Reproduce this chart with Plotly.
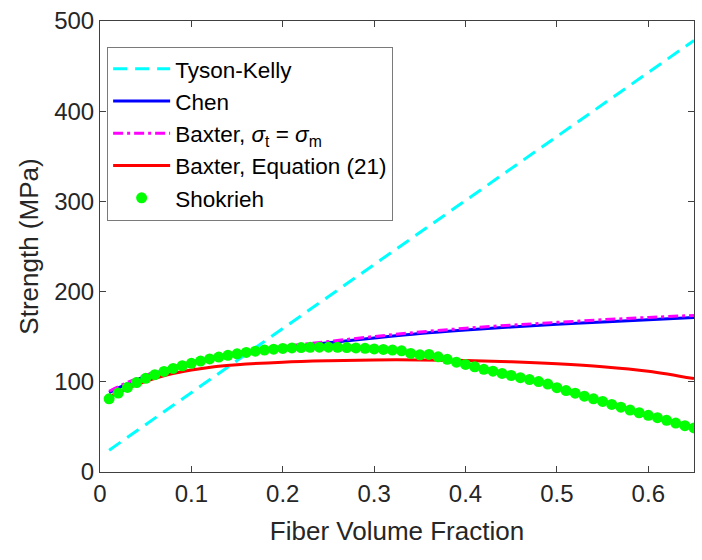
import plotly.graph_objects as go

# ---------------- data ----------------
tk_x = [0.01, 0.65]
tk_y = [24.2, 478.4]

curve_x = [0.01, 0.02, 0.03, 0.05, 0.075, 0.1, 0.125, 0.15, 0.2, 0.25, 0.3, 0.35, 0.4, 0.45, 0.5, 0.55, 0.6, 0.65]
chen_y = [88.0, 93.0, 98.0, 106.0, 114.0, 120.5, 125.8, 130.0, 137.5, 143.2, 148.6, 153.6, 157.5, 160.8, 163.7, 166.4, 168.9, 171.2]
baxter_eq_y = [89.5, 94.5, 99.3, 107.2, 115.2, 121.7, 127.0, 131.3, 138.9, 144.7, 150.2, 155.2, 159.3, 162.8, 165.9, 168.8, 171.3, 173.6]
baxter21_y = [83.0, 88.0, 92.5, 100.5, 108.0, 113.0, 116.8, 119.0, 121.8, 123.3, 124.2, 124.3, 123.6, 122.2, 120.0, 116.8, 111.8, 103.5]

shok_x = [round(0.01 * i, 2) for i in range(1, 66)]
shok_y = [81.1, 87.5, 93.8, 99.2, 103.8, 107.9, 111.5, 114.8, 117.8, 120.5,
          123.0, 125.3, 127.4, 129.3, 131.0, 132.6, 134.0, 135.2, 136.2, 137.0,
          137.6, 138.0, 138.3, 138.4, 138.4, 138.3, 138.0, 137.6, 137.1, 136.5,
          135.9, 135.2, 134.4, 131.4, 129.9, 130.4, 127.7, 124.9, 121.8, 119.3,
          116.7, 113.8, 111.8, 109.3, 107.0, 104.6, 102.5, 100.3, 97.5, 93.5,
          90.3, 87.4, 84.0, 81.1, 78.2, 74.9, 71.9, 68.6, 65.7, 62.8,
          60.2, 57.3, 54.3, 51.4, 48.8]

x_ticks = [0, 0.1, 0.2, 0.3, 0.4, 0.5, 0.6]
x_ticklabels = ["0", "0.1", "0.2", "0.3", "0.4", "0.5", "0.6"]
y_ticks = [0, 100, 200, 300, 400, 500]
y_ticklabels = ["0", "100", "200", "300", "400", "500"]

FONT = "Liberation Sans, Arial, sans-serif"
AX = "#404040"
TXT = "#262626"

fig = go.Figure()
fig.add_trace(go.Scatter(x=tk_x, y=tk_y, mode="lines", name="Tyson-Kelly",
                         line=dict(color="#00FFFF", width=3, dash="14px,8px")))
fig.add_trace(go.Scatter(x=curve_x, y=chen_y, mode="lines", name="Chen",
                         line=dict(color="#0000FF", width=3, shape="spline")))
fig.add_trace(go.Scatter(x=curve_x, y=baxter_eq_y, mode="lines",
                         name="Baxter, <i>σ</i><sub>t</sub> = <i>σ</i><sub>m</sub>",
                         line=dict(color="#FF00FF", width=3, dash="10px,4px,3px,4px", shape="spline")))
fig.add_trace(go.Scatter(x=curve_x, y=baxter21_y, mode="lines", name="Baxter, Equation (21)",
                         line=dict(color="#FF0000", width=3, shape="spline")))
fig.add_trace(go.Scatter(x=shok_x, y=shok_y, mode="markers", name="Shokrieh",
                         marker=dict(color="#00FF00", size=11, line=dict(width=0))))

fig.update_layout(
    width=702, height=560,
    margin=dict(l=100, r=7, t=18, b=88),
    paper_bgcolor="white", plot_bgcolor="white",
    font=dict(family=FONT, color=TXT, size=24),
    legend=dict(x=0.012, y=0.943, xanchor="left", yanchor="top",
                bgcolor="white", bordercolor="#7a7a7a", borderwidth=1,
                font=dict(size=22.5, color="black", family=FONT),
                itemwidth=57, tracegroupgap=0),
    showlegend=True,
)
fig.update_xaxes(range=[0, 0.65], tickvals=x_ticks, ticktext=x_ticklabels,
                 showgrid=False, zeroline=False, showline=True, linecolor=AX, linewidth=1,
                 mirror="ticks", ticks="inside", ticklen=6, tickcolor=AX,
                 tickfont=dict(size=24, color=TXT, family=FONT),
                 title=dict(text="Fiber Volume Fraction", font=dict(size=26, color=TXT, family=FONT), standoff=16))
fig.update_yaxes(range=[0, 500], tickvals=y_ticks, ticktext=y_ticklabels,
                 showgrid=False, zeroline=False, showline=True, linecolor=AX, linewidth=1,
                 mirror="ticks", ticks="inside", ticklen=6, tickcolor=AX,
                 tickfont=dict(size=24, color=TXT, family=FONT),
                 title=dict(text="Strength (MPa)", font=dict(size=26, color=TXT, family=FONT), standoff=8))

fig.write_html("out.html")
